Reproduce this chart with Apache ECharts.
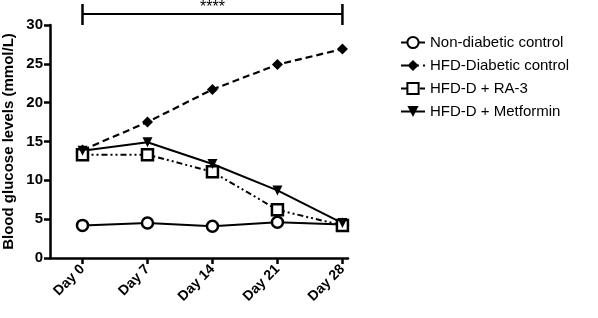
<!DOCTYPE html>
<html>
<head>
<meta charset="utf-8">
<script src="https://cdn.jsdelivr.net/npm/echarts@6/dist/echarts.min.js"></script>
<style>
  html, body { margin: 0; padding: 0; background: #fff; }
  #grafico { width: 598px; height: 318px; }
</style>
</head>
<body>
<div id="grafico"></div>
<script>
var days = [0, 7, 14, 21, 28];
var nonDiabetic = [4.2, 4.5, 4.1, 4.6, 4.3];
var hfdDiabetic = [13.9, 17.5, 21.7, 24.9, 26.9];
var hfdRA3 = [13.3, 13.3, 11.1, 6.2, 4.2];
var hfdMetformin = [13.8, 14.9, 12.1, 8.7, 4.5];
var yTicks = [0, 5, 10, 15, 20, 25, 30];

function pairs(vals) {
  return days.map(function (d, i) { return [d, vals[i]]; });
}

var chartDom = document.getElementById('grafico');
var myChart = echarts.init(chartDom);
var font = 'Liberation Sans, Arial, sans-serif';

var option = {
  animation: false,
  textStyle: { fontFamily: font },
  grid: { left: 50, right: 250, top: 25, bottom: 60 },
  legend: {
    orient: 'vertical',
    left: 395,
    top: 30,
    itemGap: 8,
    itemWidth: 24,
    itemHeight: 14,
    textStyle: { fontSize: 15, color: '#000', fontFamily: font },
    data: ['Non-diabetic control', 'HFD-Diabetic control', 'HFD-D + RA-3', 'HFD-D + Metformin']
  },
  xAxis: {
    type: 'value',
    min: -3.5,
    max: 28.6,
    splitLine: { show: false },
    axisLine: { onZero: false, lineStyle: { color: '#000', width: 2.5 } },
    axisTick: { customValues: days, length: 6, lineStyle: { color: '#000', width: 2.5 } },
    axisLabel: {
      customValues: days,
      rotate: 45,
      fontWeight: 'bold',
      fontSize: 14,
      color: '#000',
      margin: 9,
      formatter: function (v) { return 'Day ' + v; }
    }
  },
  yAxis: {
    type: 'value',
    min: 0,
    max: 30,
    interval: 5,
    name: 'Blood glucose levels (mmol/L)',
    nameLocation: 'middle',
    nameGap: 34,
    nameTextStyle: { fontWeight: 'bold', fontSize: 15, color: '#000' },
    splitLine: { show: false },
    axisLine: { show: true, onZero: false, lineStyle: { color: '#000', width: 2.5 } },
    axisTick: { show: true, length: 6, lineStyle: { color: '#000', width: 2.5 } },
    axisLabel: {
      customValues: yTicks,
      fontWeight: 'bold',
      fontSize: 15,
      color: '#000',
      margin: 7
    }
  },
  series: [
    {
      name: 'Non-diabetic control',
      type: 'line',
      data: pairs(nonDiabetic),
      symbol: 'circle',
      symbolSize: 11,
      lineStyle: { color: '#000', width: 2 },
      itemStyle: { color: '#fff', borderColor: '#000', borderWidth: 2.5 }
    },
    {
      name: 'HFD-Diabetic control',
      type: 'line',
      data: pairs(hfdDiabetic),
      symbol: 'diamond',
      symbolSize: 11,
      lineStyle: { color: '#000', width: 2.2, type: [7, 4] },
      itemStyle: { color: '#000' }
    },
    {
      name: 'HFD-D + RA-3',
      type: 'line',
      data: pairs(hfdRA3),
      symbol: 'rect',
      symbolSize: 11,
      lineStyle: { color: '#000', width: 2, type: [6, 3, 2, 3, 2, 3] },
      itemStyle: { color: '#fff', borderColor: '#000', borderWidth: 2.5 }
    },
    {
      name: 'HFD-D + Metformin',
      type: 'line',
      data: pairs(hfdMetformin),
      symbol: 'triangle',
      symbolRotate: 180,
      symbolSize: 10,
      lineStyle: { color: '#000', width: 2 },
      itemStyle: { color: '#000' }
    }
  ]
};

option && myChart.setOption(option);

// significance bracket between Day 0 and Day 28
var xa = myChart.convertToPixel({ xAxisIndex: 0 }, days[0]);
var xb = myChart.convertToPixel({ xAxisIndex: 0 }, days[days.length - 1]);
var yBar = 14;
myChart.setOption({
  graphic: [
    { type: 'line', shape: { x1: xa, y1: yBar, x2: xb, y2: yBar }, style: { stroke: '#000', lineWidth: 2 } },
    { type: 'line', shape: { x1: xa, y1: 4, x2: xa, y2: 25 }, style: { stroke: '#000', lineWidth: 2.5 } },
    { type: 'line', shape: { x1: xb, y1: 4, x2: xb, y2: 25 }, style: { stroke: '#000', lineWidth: 2.5 } },
    { type: 'text', x: (xa + xb) / 2, y: 16, style: { text: '****', fill: '#000', font: '16px ' + font, align: 'center', verticalAlign: 'bottom' } }
  ]
});
</script>
</body>
</html>
